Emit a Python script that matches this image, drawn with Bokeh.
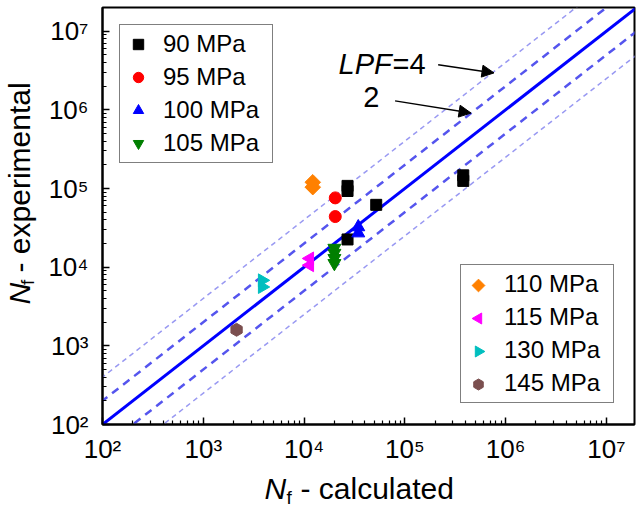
import math
from bokeh.plotting import figure
from bokeh.layouts import row, column
from bokeh.models import (Range1d, Legend, LegendItem, Label, Arrow, NormalHead,
                          CustomJSTickFormatter, FixedTicker)
from bokeh.embed import file_html
from bokeh.resources import INLINE

# ---------------- data ----------------
s90_x = [2.7e4, 2.7e4, 5.2e4, 3.8e5, 3.8e5, 2.7e4]
s90_y = [1.08e5, 9.3e4, 6.2e4, 1.47e5, 1.25e5, 2.25e4]
s95_x = [2.04e4, 2.04e4]
s95_y = [7.6e4, 4.4e4]
s100_x = [3.45e4, 3.45e4]
s100_y = [3.24e4, 2.71e4]
s105_x = [2.0e4, 2.0e4, 2.0e4, 2.0e4]
s105_y = [1.75e4, 1.51e4, 1.30e4, 1.12e4]
s110_x = [1.22e4, 1.22e4]
s110_y = [1.2e5, 1.04e5]
s115_x = [1.14e4, 1.14e4]
s115_y = [1.29e4, 1.06e4]
s130_x = [3.84e3, 3.84e3]
s130_y = [6.8e3, 5.6e3]
s145_x = [2.14e3]
s145_y = [1.6e3]

line_x = [1e1, 1e8]
lpf_factors = [1, 2, 0.5, 4, 0.25]

tick_exps = [2, 3, 4, 5, 6, 7]
x_min, x_max = 1e2, 1.9e7
y_min, y_max = 1e2, 2.0e7

# annotation anchors (data units)
arrow4 = dict(x_start=2.14e5, y_start=3.74e6, x_end=7.67e5, y_end=2.95e6)
arrow2 = dict(x_start=8.0e4, y_start=1.3e6, x_end=4.54e5, y_end=9.1e5)
lpf4_text_pos = (2.2e4, 3.85e6)
lpf2_text_pos = (4.64e4, 1.45e6)

FONT = "Liberation Sans"

# ---------------- layout constants (pixels) ----------------
FW, FH = 532, 417              # frame size
BL, BR, BT, BB = 62, 3, 7, 45  # borders of main figure
YT_W = 40                      # width of y-title strip
XT_H = 39                      # height of x-title strip
PW = BL + FW + BR
PH = BT + FH + BB

p = figure(width=PW, height=PH, x_axis_type="log", y_axis_type="log",
           x_range=Range1d(x_min, x_max), y_range=Range1d(y_min, y_max),
           output_backend="svg", toolbar_location=None,
           min_border_left=BL, min_border_right=BR, min_border_top=BT, min_border_bottom=BB)
p.grid.visible = False
p.outline_line_color = "black"
p.outline_line_width = 2
p.background_fill_color = "white"
p.border_fill_color = "white"

major = [10.0 ** e for e in tick_exps]
minor = [m * 10.0 ** e for e in range(2, 8) for m in range(2, 10) if m * 10.0 ** e < x_max]
fmt = CustomJSTickFormatter(code="""
const sup = {"0":"\u2070","1":"\u00b9","2":"\u00b2","3":"\u00b3","4":"\u2074","5":"\u2075","6":"\u2076","7":"\u2077","8":"\u2078","9":"\u2079","-":"\u207b"};
const e = Math.round(Math.log10(tick));
return "10" + String(e).split("").map(c => sup[c]).join("");
""")
for ax in (p.xaxis[0], p.yaxis[0]):
    ax.ticker = FixedTicker(ticks=major, minor_ticks=minor)
    ax.formatter = fmt
    ax.major_tick_in = 7
    ax.major_tick_out = 0
    ax.minor_tick_in = 4
    ax.minor_tick_out = 0
    ax.axis_line_width = 2
    ax.major_tick_line_width = 1.5
    ax.minor_tick_line_width = 1.2
    ax.major_label_text_font = FONT
    ax.major_label_text_font_size = "26px"
    ax.major_label_text_color = "black"
    ax.axis_label = None
p.xaxis.major_label_standoff = 9
p.yaxis.major_label_standoff = 14

# reference lines
styles = {
    1: dict(line_color="#0000ff", line_width=3),
    2: dict(line_color="#5555ee", line_width=2.5, line_dash="8 6"),
    0.5: dict(line_color="#5555ee", line_width=2.5, line_dash="8 6"),
    4: dict(line_color="#9999f2", line_width=1.5, line_dash="5 4"),
    0.25: dict(line_color="#9999f2", line_width=1.5, line_dash="5 4"),
}
for f in lpf_factors:
    p.line(line_x, [x * f for x in line_x], **styles[f])

C110, C115, C130, C145 = "#ff8000", "#ff00ff", "#00bfbf", "#7b4f4f"
r90 = p.scatter(s90_x, s90_y, marker="square", size=11, color="black")
r95 = p.scatter(s95_x, s95_y, marker="circle", size=12, color="#ff0000")
r100 = p.scatter(s100_x, s100_y, marker="triangle", size=13, color="#0000ff")
r105 = p.scatter(s105_x, s105_y, marker="inverted_triangle", size=13, color="#007f00")
r110 = p.scatter(s110_x, s110_y, marker="square", angle=math.pi / 4, size=11, color=C110)
r115 = p.scatter(s115_x, s115_y, marker="triangle", angle=math.pi / 2, size=13, color=C115)
r130 = p.scatter(s130_x, s130_y, marker="triangle", angle=-math.pi / 2, size=13, color=C130)
r145 = p.scatter(s145_x, s145_y, marker="hex", angle=math.pi / 2, size=13, color=C145)

LG = dict(pad=5, gw=26, gh=28, sp=5, standoff=12, lw=104)

def make_legend(items, location):
    return Legend(items=[LegendItem(label=l, renderers=[r]) for l, r in items],
                  location=location, label_text_font=FONT, label_text_font_size="24px",
                  label_text_color="black", label_text_baseline="middle",
                  glyph_width=LG["gw"], glyph_height=LG["gh"], label_height=LG["gh"],
                  label_width=LG["lw"],
                  spacing=LG["sp"], padding=LG["pad"], label_standoff=LG["standoff"],
                  border_line_color="black", border_line_width=1.5,
                  background_fill_color="white", background_fill_alpha=1.0, margin=17)

leg1 = make_legend([("90 MPa", r90), ("95 MPa", r95), ("100 MPa", r100), ("105 MPa", r105)], "top_left")

# second legend: rotated markers are painted by a scatter underneath a see-through legend
# (legend glyphs ignore the marker angle)
leg2_loc = (358, 21)
dummy = p.scatter([], [], marker="square", size=1, fill_alpha=0, line_alpha=0)
leg2_labels = ["110 MPa", "115 MPa", "130 MPa", "145 MPa"]
leg2 = make_legend([(l, dummy) for l in leg2_labels], leg2_loc)
leg2.margin = 0
leg2.background_fill_alpha = 0.0
p.add_layout(leg1)
p.add_layout(leg2)

n2 = len(leg2_labels)
leg2_h = 2 * LG["pad"] + n2 * LG["gh"] + (n2 - 1) * LG["sp"]
gx = leg2_loc[0] + LG["pad"] + LG["gw"] / 2
gys = [leg2_loc[1] + leg2_h - LG["pad"] - LG["gh"] / 2 - i * (LG["gh"] + LG["sp"]) for i in range(n2)]
xdec = math.log10(x_max / x_min)
ydec = math.log10(y_max / y_min)
leg_mx = [x_min * 10 ** (gx / FW * xdec)] * n2
leg_my = [y_min * 10 ** (gy / FH * ydec) for gy in gys]
leg_markers = ["square", "triangle", "triangle", "hex"]
leg_angles = [math.pi / 4, math.pi / 2, -math.pi / 2, math.pi / 2]
leg_sizes = [9, 11, 11, 11]
leg_colors = [C110, C115, C130, C145]
for mx, my, mk, an, sz, co in zip(leg_mx, leg_my, leg_markers, leg_angles, leg_sizes, leg_colors):
    p.scatter([mx], [my], marker=mk, angle=an, size=sz, color=co)

# LPF annotations
p.add_layout(Label(x=lpf4_text_pos[0], y=lpf4_text_pos[1], text="LPF", text_font=FONT,
                   text_font_size="29px", text_font_style="italic", text_baseline="middle",
                   text_align="left", text_color="black"))
p.add_layout(Label(x=lpf4_text_pos[0], y=lpf4_text_pos[1], x_offset=54, text="=4", text_font=FONT,
                   text_font_size="29px", text_baseline="middle", text_align="left", text_color="black"))
p.add_layout(Label(x=lpf2_text_pos[0], y=lpf2_text_pos[1], text="2", text_font=FONT,
                   text_font_size="29px", text_baseline="middle", text_align="center", text_color="black"))
for a in (arrow4, arrow2):
    p.add_layout(Arrow(end=NormalHead(size=12, fill_color="black", line_color="black", line_width=1),
                       line_color="black", line_width=1.5, **a))

# ---------------- axis titles (separate strips) ----------------
tfs, sfs = 30, 19

def strip(w, h):
    f = figure(width=w, height=h, x_range=Range1d(0, w), y_range=Range1d(0, h),
               output_backend="svg", toolbar_location=None, min_border=0,
               x_axis_location=None, y_axis_location=None)
    f.grid.visible = False
    f.outline_line_color = None
    f.background_fill_color = "white"
    f.border_fill_color = "white"
    return f

def title_parts(fig, x, y, rest, rotated, sub_drop):
    ang = math.pi / 2 if rotated else 0.0
    def at(along, across):
        # 'along' runs in reading direction, 'across' runs towards the text's descent side
        return (x + across, y + along) if rotated else (x + along, y - across)
    common = dict(text_font=FONT, text_baseline="middle", text_color="black", angle=ang)
    px, py = at(0, 0)
    fig.add_layout(Label(x=px, y=py, text="N", text_font_size=f"{tfs}px",
                         text_font_style="italic", **common))
    px, py = at(22, sub_drop)
    fig.add_layout(Label(x=px, y=py, text="f", text_font_size=f"{sfs}px", **common))
    px, py = at(36, 0)
    fig.add_layout(Label(x=px, y=py, text=rest, text_font_size=f"{tfs}px", **common))

yfig = strip(YT_W, PH)
title_parts(yfig, 19, 135, "- experimental", True, 8)

xfig = strip(YT_W + PW, XT_H)
title_parts(xfig, 264, 20, "- calculated", False, 9)

layout = column(row(yfig, p, spacing=0), xfig, spacing=0)
open("out.html", "w").write(file_html(layout, INLINE))
